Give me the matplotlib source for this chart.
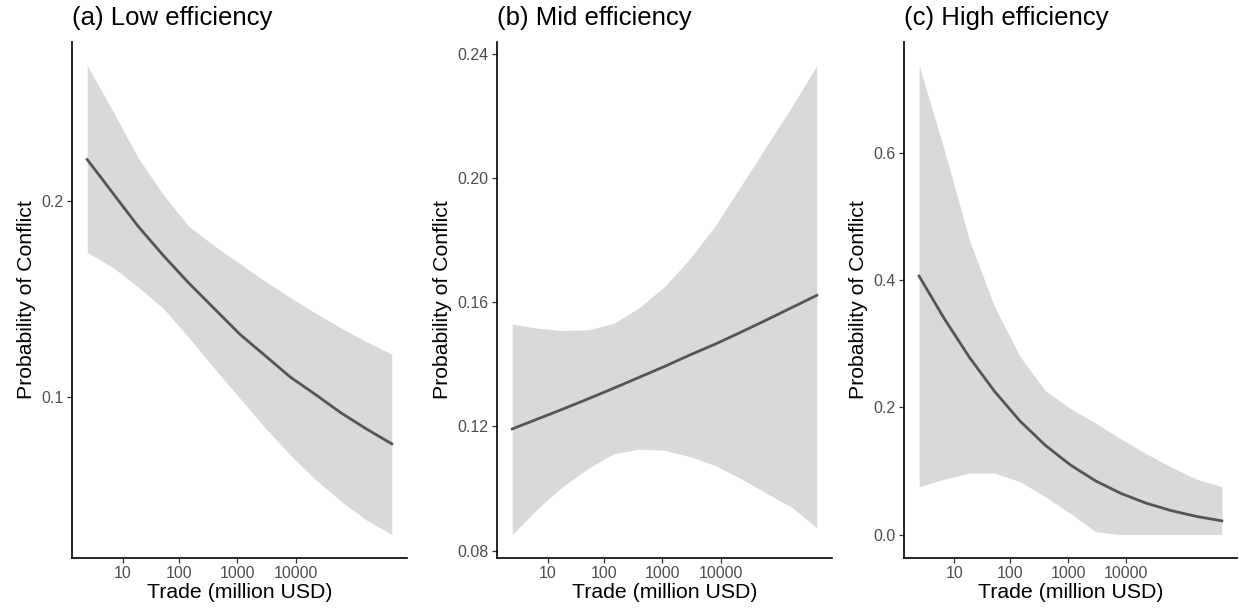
import numpy as np
import matplotlib
matplotlib.use("Agg")
import matplotlib.pyplot as plt
from matplotlib.ticker import FixedLocator, FixedFormatter

plt.rcParams['font.family'] = ['Liberation Sans', 'DejaVu Sans']

# trade values (million USD), evenly spaced on log(1 + trade)
trade = [1.72, 6.39, 19.1, 53.6, 147, 402, 1096, 2980, 8102, 22025, 59873, 162754, 442412]

low_fit = [0.221, 0.204, 0.187, 0.172, 0.158, 0.145, 0.132, 0.121, 0.110, 0.101, 0.0917, 0.0835, 0.0759]
low_hi = [0.269, 0.246, 0.222, 0.203, 0.187, 0.177, 0.168, 0.159, 0.1506, 0.1426, 0.135, 0.128, 0.1216]
low_lo = [0.1736, 0.166, 0.156, 0.145, 0.1302, 0.1146, 0.0994, 0.0842, 0.0702, 0.0576, 0.0466, 0.037, 0.0296]

mid_fit = [0.1192, 0.1224, 0.1256, 0.1289, 0.1323, 0.1358, 0.1393, 0.1430, 0.1465, 0.1503, 0.1542, 0.1582, 0.1622]
mid_hi = [0.1530, 0.1516, 0.1509, 0.1511, 0.1532, 0.1582, 0.1650, 0.1740, 0.1846, 0.1973, 0.2100, 0.2227, 0.2362]
mid_lo = [0.0852, 0.0935, 0.1007, 0.1065, 0.1112, 0.1127, 0.1123, 0.1103, 0.1074, 0.1033, 0.0985, 0.0941, 0.0874]

high_fit = [0.406, 0.339, 0.278, 0.2244, 0.1784, 0.1403, 0.1092, 0.0842, 0.0646, 0.0493, 0.0375, 0.0284, 0.0215]
high_hi = [0.737, 0.604, 0.462, 0.357, 0.280, 0.226, 0.198, 0.175, 0.150, 0.127, 0.106, 0.087, 0.075]
high_lo = [0.075, 0.0872, 0.0965, 0.0965, 0.0831, 0.0596, 0.033, 0.0043, 0.0, 0.0, 0.0, 0.0, 0.0]

titles = ["(a) Low efficiency", "(b) Mid efficiency", "(c) High efficiency"]
x_ticks = [10, 100, 1000, 10000]
x_labels = ["10", "100", "1000", "10000"]
y_ticks = [[0.1, 0.2], [0.08, 0.12, 0.16, 0.20, 0.24], [0.0, 0.2, 0.4, 0.6]]
y_labels = [["0.1", "0.2"], ["0.08", "0.12", "0.16", "0.20", "0.24"], ["0.0", "0.2", "0.4", "0.6"]]

series = [(low_fit, low_lo, low_hi), (mid_fit, mid_lo, mid_hi), (high_fit, high_lo, high_hi)]

W, H = 1239, 613
fig = plt.figure(figsize=(W / 100, H / 100), dpi=100)

# panel boxes in pixels: left, right, top, bottom
boxes = [(72, 407, 42, 558), (497, 832, 42, 558), (904, 1237, 42, 558)]

for i, (fit, lo, hi) in enumerate(series):
    l, r, t, b = boxes[i]
    ax = fig.add_axes([l / W, 1 - b / H, (r - l) / W, (b - t) / H])
    ax.set_xscale('function', functions=(np.log1p, np.expm1))

    ax.fill_between(trade, lo, hi, color='#d9d9d9', linewidth=0)
    ax.plot(trade, fit, color='#555555', linewidth=2.0)

    # ggplot-like 5% expansion
    lx = np.log1p(trade)
    px = (lx.max() - lx.min()) * 0.05
    ax.set_xlim(np.expm1(lx.min() - px), np.expm1(lx.max() + px))
    ymin, ymax = min(lo), max(hi)
    py = (ymax - ymin) * 0.05
    ax.set_ylim(ymin - py, ymax + py)

    ax.xaxis.set_major_locator(FixedLocator(x_ticks))
    ax.xaxis.set_major_formatter(FixedFormatter(x_labels))
    ax.xaxis.set_minor_locator(FixedLocator([]))
    ax.yaxis.set_major_locator(FixedLocator(y_ticks[i]))
    ax.yaxis.set_major_formatter(FixedFormatter(y_labels[i]))

    for s in ['top', 'right']:
        ax.spines[s].set_visible(False)
    for s in ['left', 'bottom']:
        ax.spines[s].set_linewidth(1.2)
        ax.spines[s].set_color('black')

    ax.tick_params(direction='out', length=3.5, width=0.9, color='#333333',
                   labelsize=11.5, labelcolor='#4d4d4d', pad=2.5)

    ax.set_xlabel("Trade (million USD)", fontsize=15.3, labelpad=1)
    ax.set_ylabel("Probability of Conflict", fontsize=15.3, labelpad=4)
    ax.set_title(titles[i], loc='left', fontsize=18.5, pad=12)

fig.savefig("out.png", dpi=100)
